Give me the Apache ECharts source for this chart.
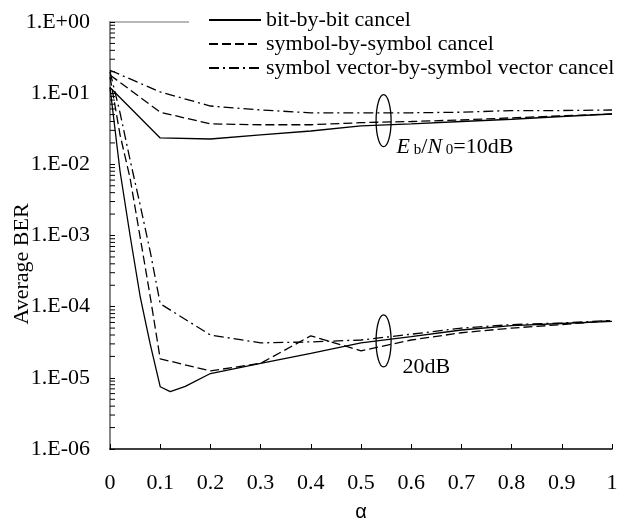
<!DOCTYPE html>
<html>
<head>
<meta charset="UTF-8">
<script src="https://cdn.jsdelivr.net/npm/echarts@6/dist/echarts.min.js"></script>
<style>
html, body { margin: 0; background: #fff; }
#chart { width: 628px; height: 530px; }
</style>
</head>
<body>
<div id="chart"></div>
<script>
// legend names
var names = ['bit-by-bit cancel', 'symbol-by-symbol cancel', 'symbol vector-by-symbol vector cancel'];

// Eb/N0 = 10dB
var alpha10 = [0, 0.1, 0.2, 0.3, 0.4, 0.5, 0.6, 0.7, 0.8, 0.9, 1];
var bit10 = [0.12, 0.0235, 0.0227, 0.0259, 0.0294, 0.0346, 0.037, 0.040, 0.043, 0.047, 0.051];
var sym10 = [0.18, 0.054, 0.037, 0.036, 0.036, 0.0385, 0.040, 0.042, 0.045, 0.048, 0.051];
var vec10 = [0.21, 0.104, 0.066, 0.058, 0.053, 0.0527, 0.053, 0.054, 0.057, 0.057, 0.058];

// Eb/N0 = 20dB
var alphaBit20 = [0, 0.02, 0.04, 0.06, 0.08, 0.1, 0.12, 0.15, 0.2, 0.3, 0.4, 0.5, 0.6, 0.7, 0.8, 0.9, 1];
var bit20 = [0.12, 8e-3, 1.0e-3, 1.4e-4, 3e-5, 7.5e-6, 6.4e-6, 7.6e-6, 1.15e-5, 1.6e-5, 2.2e-5, 3.1e-5, 3.8e-5, 4.7e-5, 5.4e-5, 5.8e-5, 6.2e-5];
var alphaSym20 = [0, 0.02, 0.04, 0.06, 0.08, 0.1, 0.2, 0.3, 0.4, 0.5, 0.6, 0.7, 0.8, 0.9, 1];
var sym20 = [0.17, 0.026, 6.4e-3, 9.5e-4, 1.4e-4, 1.85e-5, 1.25e-5, 1.6e-5, 3.9e-5, 2.4e-5, 3.4e-5, 4.3e-5, 5.0e-5, 5.6e-5, 6.4e-5];
var alphaVec20 = [0, 0.02, 0.04, 0.06, 0.08, 0.1, 0.2, 0.3, 0.4, 0.5, 0.6, 0.7, 0.8, 0.9, 1];
var vec20 = [0.2, 0.053, 0.0115, 2.7e-3, 6e-4, 1.1e-4, 4e-5, 3.1e-5, 3.2e-5, 3.4e-5, 4.1e-5, 5.0e-5, 5.6e-5, 5.9e-5, 6.4e-5];

// tick labels
var xTickLabels = ['0', '0.1', '0.2', '0.3', '0.4', '0.5', '0.6', '0.7', '0.8', '0.9', '1'];
var yTickLabels = ['1.E-06', '1.E-05', '1.E-04', '1.E-03', '1.E-02', '1.E-01', '1.E+00'];
var minorMantissa = [2, 3, 4, 5, 6, 7, 8, 9];
var minorDecades = [1e-6, 1e-5, 1e-4, 1e-3, 1e-2, 1e-1];

// annotations (ellipse centre + label)
var noteAlpha = [0.545, 0.545];
var noteBer = [0.041, 3.3e-5];
var noteText = ['{i|E}{s| b}/{i|N}{s| 0}=10dB', '20dB'];
var noteDx = [13, 19];

var font = 'Liberation Serif';
var dashes = ['solid', [9, 4], [10, 4, 2, 4]];

function pairs(xs, ys) {
    return xs.map(function (x, i) { return [x, ys[i]]; });
}

function lineSeries(name, k, data) {
    return {
        name: name,
        type: 'line',
        symbol: 'none',
        data: data,
        z: 3,
        lineStyle: { color: '#000', width: 1.3, type: dashes[k] },
        itemStyle: { color: '#000' }
    };
}

var myChart = echarts.init(document.getElementById('chart'));
var option = {
    animation: false,
    textStyle: { fontFamily: font, color: '#000' },
    grid: { left: 110, right: 16, top: 22, bottom: 81 },
    legend: {
        data: names,
        orient: 'vertical',
        left: 189,
        top: 0,
        padding: [9, 16, 7, 19],
        itemWidth: 52,
        itemHeight: 14,
        itemGap: 2,
        backgroundColor: '#fff',
        selectedMode: false,
        itemStyle: { opacity: 0 },
        textStyle: { fontFamily: font, fontSize: 22, lineHeight: 22, color: '#000' }
    },
    xAxis: [
        {
            type: 'value',
            min: 0,
            max: 1,
            interval: 0.1,
            name: 'α',
            nameLocation: 'middle',
            nameGap: 53,
            nameTextStyle: { fontFamily: 'Liberation Sans', fontSize: 20, color: '#000' },
            splitLine: { show: false },
            axisLine: { show: true, lineStyle: { color: '#000', width: 1.5 } },
            axisTick: { show: true, inside: true, length: 5, lineStyle: { color: '#000', width: 1 } },
            axisLabel: {
                margin: 23,
                fontSize: 22,
                color: '#000',
                fontFamily: font,
                formatter: function (v) { return xTickLabels[Math.round(v * 10)]; }
            }
        },
        {
            type: 'value',
            position: 'top',
            min: 0,
            max: 1,
            splitLine: { show: false },
            axisLine: { show: true, lineStyle: { color: '#a0a0a0', width: 1.5 } },
            axisTick: { show: false },
            axisLabel: { show: false }
        }
    ],
    yAxis: [
        {
            type: 'log',
            logBase: 10,
            min: 1e-6,
            max: 1,
            splitNumber: 6,
            splitLine: { show: false },
            axisLine: { show: true, lineStyle: { color: '#000', width: 1.5 } },
            axisTick: { show: true, inside: true, length: 5, lineStyle: { color: '#000', width: 1 } },
            axisLabel: {
                margin: 20,
                fontSize: 22,
                color: '#000',
                fontFamily: font,
                formatter: function (v) { return yTickLabels[Math.round(Math.log10(v)) + 6]; }
            }
        },
        {
            type: 'value',
            position: 'right',
            min: 0,
            max: 1,
            splitLine: { show: false },
            axisLine: { show: true, lineStyle: { color: '#a0a0a0', width: 1.5 } },
            axisTick: { show: false },
            axisLabel: { show: false }
        }
    ],
    series: [
        lineSeries(names[0], 0, pairs(alpha10, bit10)),
        lineSeries(names[1], 1, pairs(alpha10, sym10)),
        lineSeries(names[2], 2, pairs(alpha10, vec10)),
        lineSeries(names[0], 0, pairs(alphaBit20, bit20)),
        lineSeries(names[1], 1, pairs(alphaSym20, sym20)),
        lineSeries(names[2], 2, pairs(alphaVec20, vec20)),
        {
            // ellipses and SNR labels
            type: 'custom',
            silent: true,
            z: 5,
            data: pairs(noteAlpha, noteBer),
            renderItem: function (params, api) {
                var p = api.coord([api.value(0), api.value(1)]);
                var i = params.dataIndex;
                return {
                    type: 'group',
                    children: [
                        {
                            type: 'ellipse',
                            shape: { cx: p[0], cy: p[1], rx: 7.5, ry: 26 },
                            style: { fill: 'none', stroke: '#000', lineWidth: 1.3 }
                        },
                        {
                            type: 'text',
                            x: p[0] + noteDx[i],
                            y: p[1] + 26,
                            style: {
                                text: noteText[i],
                                fontFamily: font,
                                fontSize: 22,
                                lineHeight: 22,
                                fill: '#000',
                                align: 'left',
                                verticalAlign: 'middle',
                                rich: {
                                    i: { fontFamily: font, fontSize: 22, fontStyle: 'italic', lineHeight: 22 },
                                    s: { fontFamily: font, fontSize: 15, lineHeight: 10, verticalAlign: 'bottom' }
                                }
                            }
                        }
                    ]
                };
            }
        }
    ]
};
myChart.setOption(option);

// y axis name and the log-axis minor ticks, placed through the axis scale
var graphics = [
    {
        type: 'text',
        x: 22,
        y: 264,
        rotation: Math.PI / 2,
        style: {
            text: 'Average BER',
            fontFamily: font,
            fontSize: 22,
            fill: '#000',
            align: 'center',
            verticalAlign: 'middle'
        }
    }
];
minorDecades.forEach(function (d) {
    minorMantissa.forEach(function (m) {
        var p = myChart.convertToPixel({ xAxisIndex: 0, yAxisIndex: 0 }, [0, m * d]);
        graphics.push({
            type: 'line',
            silent: true,
            z: 10,
            shape: { x1: p[0], y1: p[1], x2: p[0] + 5, y2: p[1] },
            style: { stroke: '#000', lineWidth: 1 }
        });
    });
});
myChart.setOption({ graphic: graphics });
</script>
</body>
</html>
